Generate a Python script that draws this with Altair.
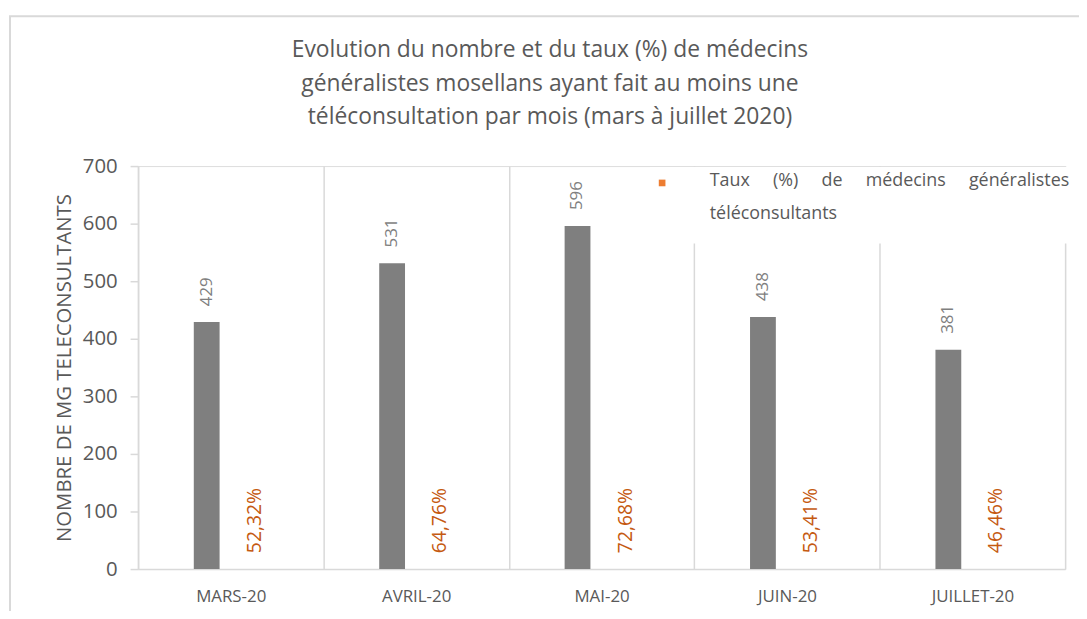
import altair as alt
import pandas as pd

months = ["MARS-20", "AVRIL-20", "MAI-20", "JUIN-20", "JUILLET-20"]
nombre = [429, 531, 596, 438, 381]
taux = [0.5232, 0.6476, 0.7268, 0.5341, 0.4646]
taux_labels = ["52,32%", "64,76%", "72,68%", "53,41%", "46,46%"]

title_lines = ["Evolution du nombre et du taux  (%) de médecins",
               "généralistes mosellans ayant fait au moins une",
               "téléconsultation par mois (mars à juillet 2020)"]
GAP = "\u00a0" * 4 + " "
legend_lines = [GAP.join(["Taux", "(%)", "de", "médecins", "généralistes"]),
                "téléconsultants"]

rows = []
for m, n, t, tl in zip(months, nombre, taux, taux_labels):
    rows.append({"mois": m, "serie": "Nombre", "valeur": n, "label": str(n)})
    rows.append({"mois": m, "serie": "Taux", "valeur": t, "label": tl})
df = pd.DataFrame(rows)

FONT = "Open Sans"
GREY_TXT = "#595959"
LINE = "#d9d9d9"
ORANGE = "#ed7d31"

x_enc = alt.X("mois:N", sort=months,
              scale=alt.Scale(paddingInner=0, paddingOuter=0),
              axis=alt.Axis(title=None, labelAngle=0, labelFontSize=17,
                            labelColor=GREY_TXT, labelPadding=20, ticks=False,
                            domainColor=LINE, domainWidth=1.5, grid=True,
                            gridColor=LINE, gridWidth=1.5, tickBand="extent",
                            labelFont=FONT))
xoff = alt.XOffset("serie:N", sort=["Nombre", "Taux"],
                   scale=alt.Scale(paddingInner=0.144, paddingOuter=1))
y_scale = alt.Scale(domain=[0, 700])

base = alt.Chart(df)

bars = base.transform_filter(alt.datum.serie == "Nombre").mark_bar(
    width=26, color="#7f7f7f").encode(
    x=x_enc,
    xOffset=xoff,
    y=alt.Y("valeur:Q", scale=y_scale,
            axis=alt.Axis(values=[0, 100, 200, 300, 400, 500, 600, 700],
                          title="NOMBRE DE MG TELECONSULTANTS",
                          titleFontSize=20.5, titleColor=GREY_TXT,
                          titleFontWeight="normal", titleFont=FONT,
                          titlePadding=8,
                          labelFontSize=20.5, labelColor=GREY_TXT, labelFont=FONT,
                          labelPadding=13,
                          domainColor=LINE, domainWidth=1.5,
                          tickColor=LINE, tickWidth=1.5, tickSize=8,
                          grid=False)),
)

count_labels = base.transform_filter(alt.datum.serie == "Nombre").mark_text(
    angle=270, align="left", baseline="middle", dx=16, fontSize=17,
    color="#7f7f7f", font=FONT
).encode(x=x_enc, xOffset=xoff, y=alt.Y("valeur:Q", scale=y_scale),
         text="label:N")

taux_text = base.transform_filter(alt.datum.serie == "Taux").transform_calculate(
    zero="0").mark_text(
    angle=270, align="left", baseline="middle", dx=16, fontSize=19.5,
    color="#c55a11", font=FONT
).encode(x=x_enc, xOffset=xoff, y=alt.Y("zero:Q", scale=y_scale),
         text="label:N")

one = pd.DataFrame({"b": [0]})

border = alt.Chart(one).mark_rect(
    fill=None, stroke=LINE, strokeWidth=2
).encode(x=alt.value(-129), x2=alt.value(960), y=alt.value(-151),
         y2=alt.value(480))

title = alt.Chart(one).mark_text(
    text=title_lines, lineHeight=34, fontSize=23, font=FONT, color=GREY_TXT,
    align="center", baseline="top"
).encode(x=alt.value(415), y=alt.value(-128))

legend_bg = alt.Chart(one).mark_rect(fill="white").encode(
    x=alt.value(516), x2=alt.value(940), y=alt.value(1), y2=alt.value(78))
legend_sym = alt.Chart(one).mark_square(size=45, color=ORANGE, opacity=1).encode(
    x=alt.value(528), y=alt.value(17))
legend_txt = alt.Chart(one).mark_text(
    text=legend_lines, lineHeight=33, fontSize=18, font=FONT, color=GREY_TXT,
    align="left", baseline="top"
).encode(x=alt.value(576), y=alt.value(6))

chart = alt.layer(border, title, bars, legend_bg, legend_sym, legend_txt,
                  count_labels, taux_text).properties(
    width=934, height=406,
    autosize=alt.AutoSizeParams(type="none"),
    padding={"left": 131, "top": 157, "right": 14, "bottom": 40},
).configure_view(stroke=None).configure(background="white")

chart.save("out.html", embed_options={"renderer": "svg", "actions": False})
